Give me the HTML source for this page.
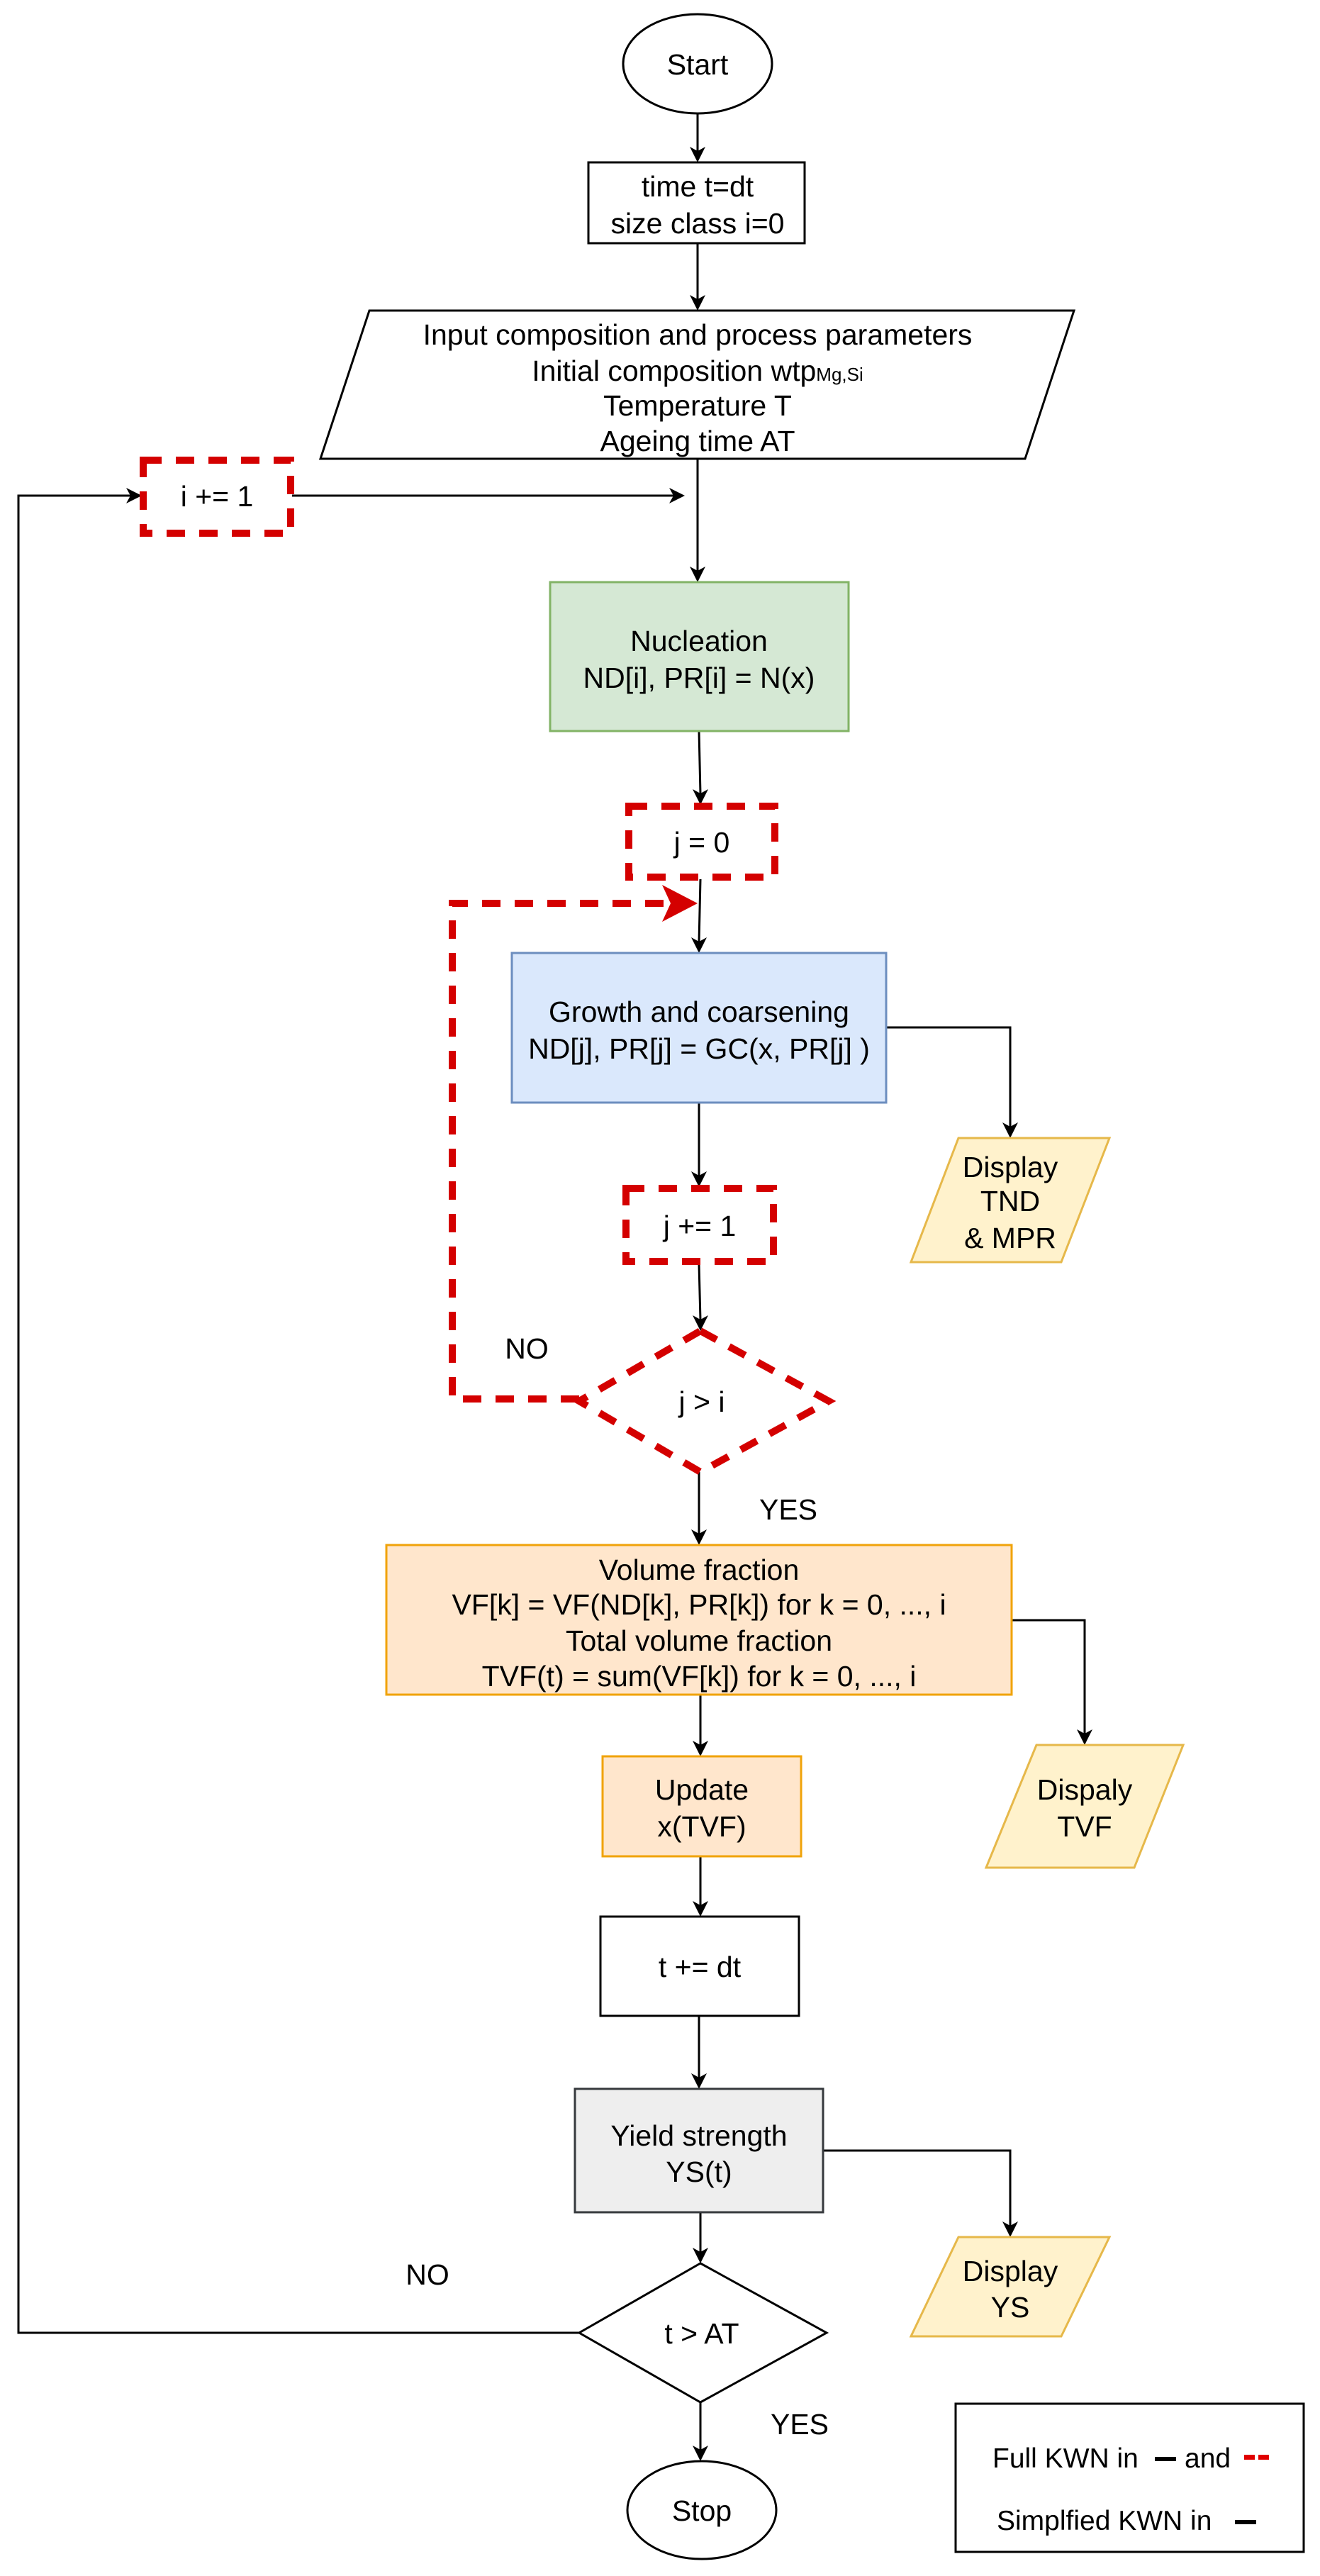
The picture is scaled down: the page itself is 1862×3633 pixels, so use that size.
<!DOCTYPE html>
<html><head><meta charset="utf-8"><style>
html,body{margin:0;padding:0;background:#fff;}
svg{display:block;}
text{font-family:"Liberation Sans",Arial,sans-serif;font-size:41px;fill:#000;text-anchor:middle;}
</style></head><body>
<svg width="1862" height="3633" viewBox="0 0 1862 3633" xmlns="http://www.w3.org/2000/svg">
<g stroke="#000" stroke-width="3" fill="none">
<line x1="984" y1="160" x2="984" y2="214"/>
<line x1="984" y1="343" x2="984" y2="424"/>
<line x1="984" y1="647" x2="984" y2="806"/>
<line x1="412" y1="699" x2="952" y2="699"/>
<polyline points="817,3290 26,3290 26,699 186,699"/>
<line x1="986" y1="1031" x2="988" y2="1120"/>
<line x1="988" y1="1240" x2="986" y2="1329"/>
<polyline points="1250,1449 1425,1449 1425,1590"/>
<line x1="986" y1="1555" x2="986" y2="1659"/>
<line x1="986" y1="1783" x2="988" y2="1862"/>
<line x1="986" y1="2076" x2="986" y2="2164"/>
<polyline points="1427,2285 1530,2285 1530,2447"/>
<line x1="988" y1="2390" x2="988" y2="2462"/>
<line x1="988" y1="2618" x2="988" y2="2688"/>
<line x1="986" y1="2843" x2="986" y2="2931"/>
<polyline points="1161,3033 1425,3033 1425,3140"/>
<line x1="988" y1="3120" x2="988" y2="3177"/>
<line x1="988" y1="3388" x2="988" y2="3456"/>
</g>
<g fill="#000">
<polygon points="984,229 973,207 984,213 995,207"/>
<polygon points="984,438 973,416 984,422 995,416"/>
<polygon points="984,821 973,799 984,805 995,799"/>
<polygon points="966,699 944,688 950,699 944,710"/>
<polygon points="200,699 178,688 184,699 178,710"/>
<polygon points="988,1135 977,1113 988,1119 999,1113"/>
<polygon points="986,1344 975,1322 986,1328 997,1322"/>
<polygon points="1425,1605 1414,1583 1425,1589 1436,1583"/>
<polygon points="986,1674 975,1652 986,1658 997,1652"/>
<polygon points="988,1877 977,1855 988,1861 999,1855"/>
<polygon points="986,2179 975,2157 986,2163 997,2157"/>
<polygon points="1530,2461 1519,2439 1530,2445 1541,2439"/>
<polygon points="988,2477 977,2455 988,2461 999,2455"/>
<polygon points="988,2703 977,2681 988,2687 999,2681"/>
<polygon points="986,2946 975,2924 986,2930 997,2924"/>
<polygon points="1425,3155 1414,3133 1425,3139 1436,3133"/>
<polygon points="988,3192 977,3170 988,3176 999,3170"/>
<polygon points="988,3471 977,3449 988,3455 999,3449"/>
</g>
<polyline points="817,1973 638,1973 638,1274 940,1274" fill="none" stroke="#d40000" stroke-width="10" stroke-dasharray="26,20"/>
<polygon points="984,1274 934,1248 946,1274 934,1300" fill="#d40000"/>
<ellipse cx="984" cy="90" rx="105" ry="70" fill="#fff" stroke="#000" stroke-width="3"/>
<text x="984" y="105">Start</text>
<rect x="830" y="229" width="305" height="114" fill="#fff" stroke="#000" stroke-width="3"/>
<text x="984" y="277">time t=dt</text>
<text x="984" y="329">size class i=0</text>
<polygon points="521,438 1515,438 1446,647 452,647" fill="#fff" stroke="#000" stroke-width="3"/>
<text x="984" y="486">Input composition and process parameters</text>
<text x="984" y="537">Initial composition wtp<tspan font-size="26">Mg,Si</tspan></text>
<text x="984" y="586">Temperature T</text>
<text x="984" y="636">Ageing time AT</text>
<rect x="202" y="649" width="208" height="103" fill="#fff" stroke="#d40000" stroke-width="10" stroke-dasharray="26,20"/>
<text x="306" y="714">i += 1</text>
<rect x="776" y="821" width="421" height="210" fill="#d5e8d4" stroke="#82b366" stroke-width="3"/>
<text x="986" y="918">Nucleation</text>
<text x="986" y="970">ND[i], PR[i] = N(x)</text>
<rect x="887" y="1137" width="206" height="100" fill="#fff" stroke="#d40000" stroke-width="10" stroke-dasharray="26,20"/>
<text x="990" y="1202">j = 0</text>
<rect x="722" y="1344" width="528" height="211" fill="#dae8fc" stroke="#6c8ebf" stroke-width="3"/>
<text x="986" y="1441">Growth and coarsening</text>
<text x="986" y="1493">ND[j], PR[j] = GC(x, PR[j] )</text>
<polygon points="1352,1605 1565,1605 1497,1780 1285,1780" fill="#fff2cc" stroke="#e6b84a" stroke-width="3"/>
<text x="1425" y="1660">Display</text>
<text x="1425" y="1708">TND</text>
<text x="1425" y="1760">&amp; MPR</text>
<rect x="883" y="1676" width="208" height="103" fill="#fff" stroke="#d40000" stroke-width="10" stroke-dasharray="26,20"/>
<text x="987" y="1743">j += 1</text>
<polygon points="988,1877 1169,1976 988,2076 817,1976" fill="#fff" stroke="#d40000" stroke-width="10" stroke-dasharray="26,20"/>
<text x="990" y="1991">j  &gt; i</text>
<text x="743" y="1916">NO</text>
<text x="1112" y="2143">YES</text>
<rect x="545" y="2179" width="882" height="211" fill="#ffe6cc" stroke="#f0a30a" stroke-width="3"/>
<text x="986" y="2228">Volume fraction</text>
<text x="986" y="2277">VF[k] = VF(ND[k], PR[k]) for k = 0, ..., i</text>
<text x="986" y="2328">Total volume fraction</text>
<text x="986" y="2378">TVF(t) = sum(VF[k]) for k = 0, ..., i</text>
<polygon points="1462,2461 1669,2461 1600,2634 1391,2634" fill="#fff2cc" stroke="#e6b84a" stroke-width="3"/>
<text x="1530" y="2538">Dispaly</text>
<text x="1530" y="2590">TVF</text>
<rect x="850" y="2477" width="280" height="141" fill="#ffe6cc" stroke="#f0a30a" stroke-width="3"/>
<text x="990" y="2538">Update</text>
<text x="990" y="2590">x(TVF)</text>
<rect x="847" y="2703" width="280" height="140" fill="#fff" stroke="#000" stroke-width="3"/>
<text x="987" y="2788">t += dt</text>
<rect x="811" y="2946" width="350" height="174" fill="#eeeeee" stroke="#36393d" stroke-width="3"/>
<text x="986" y="3026">Yield strength</text>
<text x="986" y="3077">YS(t)</text>
<polygon points="1352,3155 1565,3155 1497,3295 1285,3295" fill="#fff2cc" stroke="#e6b84a" stroke-width="3"/>
<text x="1425" y="3217">Display</text>
<text x="1425" y="3268">YS</text>
<polygon points="988,3192 1166,3290 988,3388 817,3290" fill="#fff" stroke="#000" stroke-width="3"/>
<text x="990" y="3305">t &gt; AT</text>
<text x="603" y="3222">NO</text>
<text x="1128" y="3433">YES</text>
<ellipse cx="990" cy="3540" rx="105" ry="69" fill="#fff" stroke="#000" stroke-width="3"/>
<text x="990" y="3555">Stop</text>
<rect x="1348" y="3390" width="491" height="209" fill="#fff" stroke="#000" stroke-width="3"/>
<text x="1400" y="3480" style="text-anchor:start;font-size:39px">Full KWN in</text>
<rect x="1629" y="3465" width="30" height="6" fill="#000"/>
<text x="1671" y="3480" style="text-anchor:start;font-size:39px">and</text>
<rect x="1755" y="3462" width="15" height="7" fill="#e00000"/>
<rect x="1775" y="3462" width="15" height="7" fill="#e00000"/>
<text x="1406" y="3568" style="text-anchor:start;font-size:39px">Simplfied KWN in</text>
<rect x="1742" y="3554" width="30" height="6" fill="#000"/>
</svg>
</body></html>
